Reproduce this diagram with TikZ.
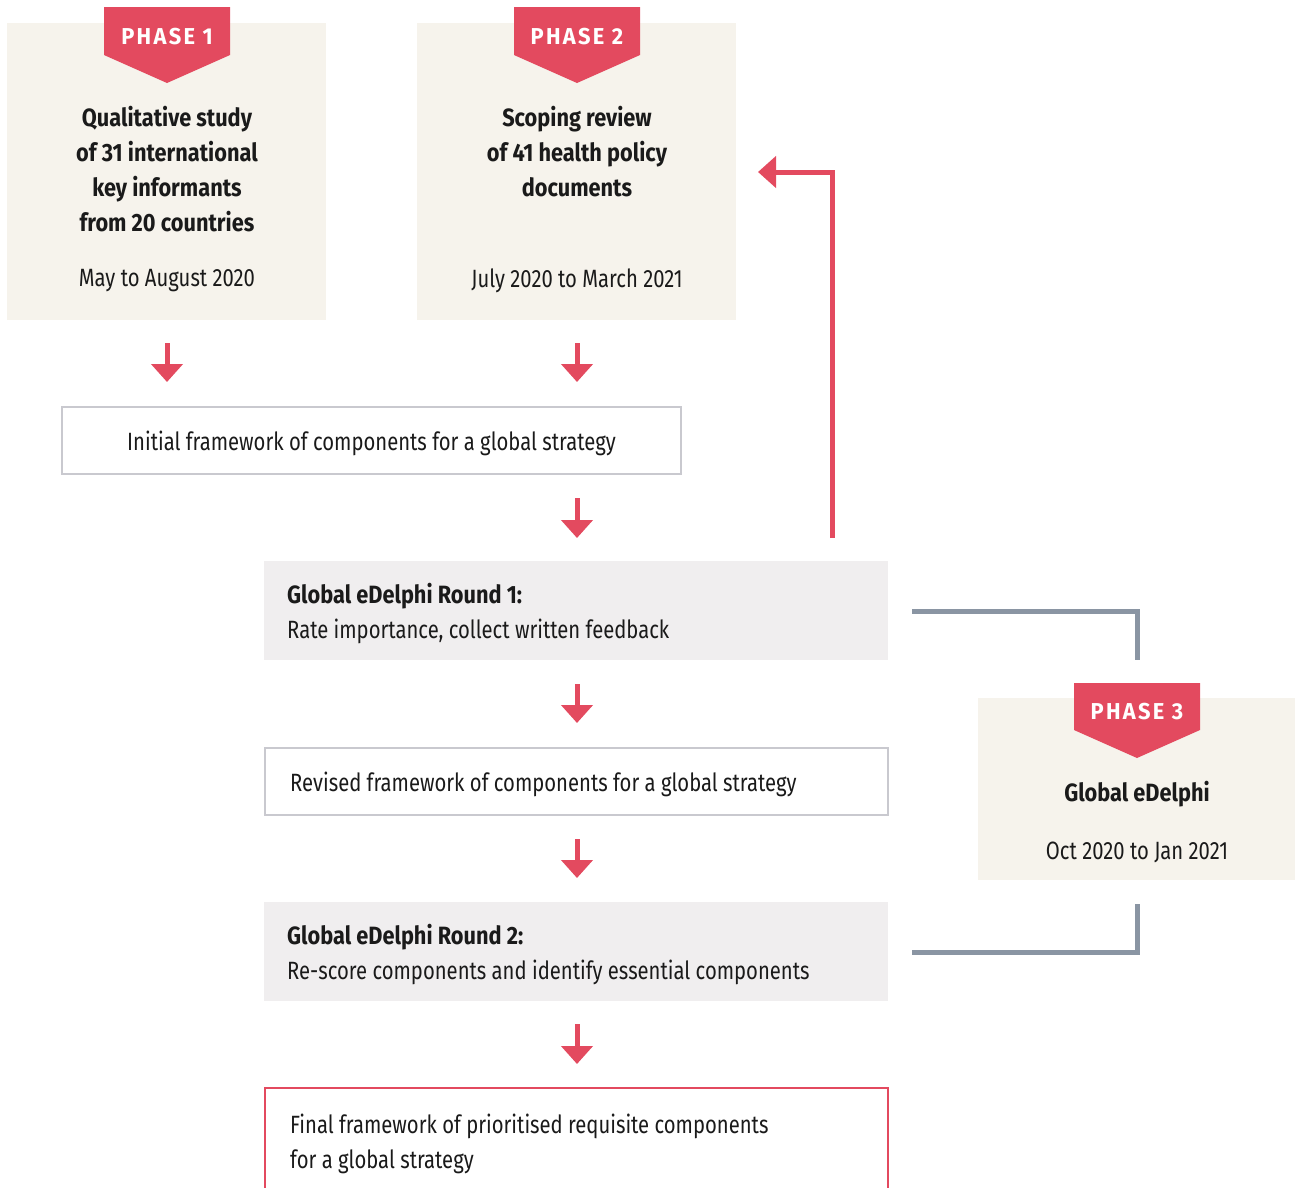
\documentclass[tikz,border=0pt]{standalone}
\usepackage{fontspec}
\setmainfont[FakeStretch=0.81,BoldFeatures={FakeStretch=0.87}]{Fira Sans}
\newfontfamily\badgefont[LetterSpace=10,FakeStretch=0.95]{Fira Sans}
\usetikzlibrary{arrows.meta}
\definecolor{cred}{HTML}{E34A5F}
\definecolor{beige}{HTML}{F6F3EC}
\definecolor{lgray}{HTML}{F0EEEF}
\definecolor{bgray}{HTML}{C9C9CF}
\definecolor{dgray}{HTML}{8A95A3}
\definecolor{txt}{HTML}{1A1A1A}
\tikzset{
  phasebox/.style={fill=beige, draw=none, inner sep=0, minimum width=319, minimum height=297},
  badgetxt/.style={text=white, font=\badgefont\bfseries\fontsize{23}{26}\selectfont, inner sep=0},
  ttl/.style={text=txt, font=\bfseries\fontsize{25}{35}\selectfont, align=center, inner sep=0},
  dte/.style={text=txt, font=\fontsize{25}{35}\selectfont, align=center, inner sep=0},
  outlinebox/.style={draw=bgray, line width=2, fill=white, inner sep=0},
  graybox/.style={fill=lgray, draw=none, minimum width=624, minimum height=99, inner sep=0},
  boxtxt/.style={anchor=west, align=flush left, inner sep=0, text=txt, font=\fontsize{25}{35}\selectfont},
  redarrow/.style={draw=cred, line width=5, -{Triangle[width=31,length=18]}},
  fbarrow/.style={draw=cred, line width=5, -{Triangle[width=31,length=18]}},
  bracket/.style={draw=dgray, line width=5},
}
\begin{document}
\begin{tikzpicture}[x=1pt,y=-1pt]
\useasboundingbox (0,0) rectangle (1295,1187);
\clip (0,0) rectangle (1295,1187);

% Phase 1
\node[phasebox] (p1) at (166.5,171.5) {};
\begin{scope}[shift={(167,0)}]
  \fill[cred] (-63,7) -- (63,7) -- (63,55) -- (0,83) -- (-63,55) -- cycle;
  \node[badgetxt] (b1) at (0,37) {PHASE 1};
\end{scope}
\node[ttl] (t1) at (167,169) {Qualitative study\\of 31 international\\key informants\\from 20 countries};
\node[dte] (d1) at (167,281) {May to August 2020};

% Phase 2
\node[phasebox] (p2) at (576.5,171.5) {};
\begin{scope}[shift={(577,0)}]
  \fill[cred] (-63,7) -- (63,7) -- (63,55) -- (0,83) -- (-63,55) -- cycle;
  \node[badgetxt] (b2) at (0,37) {PHASE 2};
\end{scope}
\node[ttl] (t2) at (577,152) {Scoping review\\of 41 health policy\\documents};
\node[dte] (d2) at (577,281) {July 2020 to March 2021};

% Phase 3
\node[phasebox, minimum width=317, minimum height=182] (p3) at (1136.5,789) {};
\begin{scope}[shift={(1137,676)}]
  \fill[cred] (-63,7) -- (63,7) -- (63,54) -- (0,82) -- (-63,54) -- cycle;
  \node[badgetxt] (b3) at (0,36) {PHASE 3};
\end{scope}
\node[ttl] (t3) at (1137,794) {Global eDelphi};
\node[dte] (d3) at (1137,852) {Oct 2020 to Jan 2021};

% Initial framework
\node[outlinebox, minimum width=619, minimum height=67] (init) at (371.5,440.5) {};
\node[dte] (initt) at (371.5,443.5) {Initial framework of components for a global strategy};

% Round 1
\node[graybox] (r1) at (576,610.5) {};
\node[boxtxt] (r1t) at (287,613.5) {\textbf{Global eDelphi Round 1:}\\Rate importance, collect written feedback};

% Revised
\node[outlinebox, minimum width=623, minimum height=67] (rev) at (576.5,781.5) {};
\node[boxtxt] (revt) at (290,784.5) {Revised framework of components for a global strategy};

% Round 2
\node[graybox] (r2) at (576,951.5) {};
\node[boxtxt] (r2t) at (287,954.5) {\textbf{Global eDelphi Round 2:}\\Re-score components and identify essential components};

% Final
\node[draw=cred, line width=2, fill=white, minimum width=623, minimum height=122, inner sep=0] (fin) at (576.5,1149) {};
\node[boxtxt] (fint) at (290,1143.5) {Final framework of prioritised requisite components\\for a global strategy};

% down arrows
\coordinate (a1s) at (167,343); \coordinate (a1e) at (167,382);
\coordinate (a2s) at (577,343); \coordinate (a2e) at (577,382);
\coordinate (a3s) at (577,498); \coordinate (a3e) at (577,538);
\coordinate (a4s) at (577,684); \coordinate (a4e) at (577,723);
\coordinate (a5s) at (577,839); \coordinate (a5e) at (577,878);
\coordinate (a6s) at (577,1024); \coordinate (a6e) at (577,1064);
\draw[redarrow] (a1s) -- (a1e);
\draw[redarrow] (a2s) -- (a2e);
\draw[redarrow] (a3s) -- (a3e);
\draw[redarrow] (a4s) -- (a4e);
\draw[redarrow] (a5s) -- (a5e);
\draw[redarrow] (a6s) -- (a6e);

% feedback arrow
\coordinate (fbs) at (832,538);
\coordinate (fbe) at (758,172);
\draw[fbarrow] (fbs) |- (fbe);

% brackets
\coordinate (g1a) at (912,611); \coordinate (g1b) at (1137,660);
\coordinate (g2a) at (1137,904); \coordinate (g2b) at (912,952);
\draw[bracket] (g1a) -| (g1b);
\draw[bracket] (g2a) |- (g2b);
\end{tikzpicture}
\end{document}
